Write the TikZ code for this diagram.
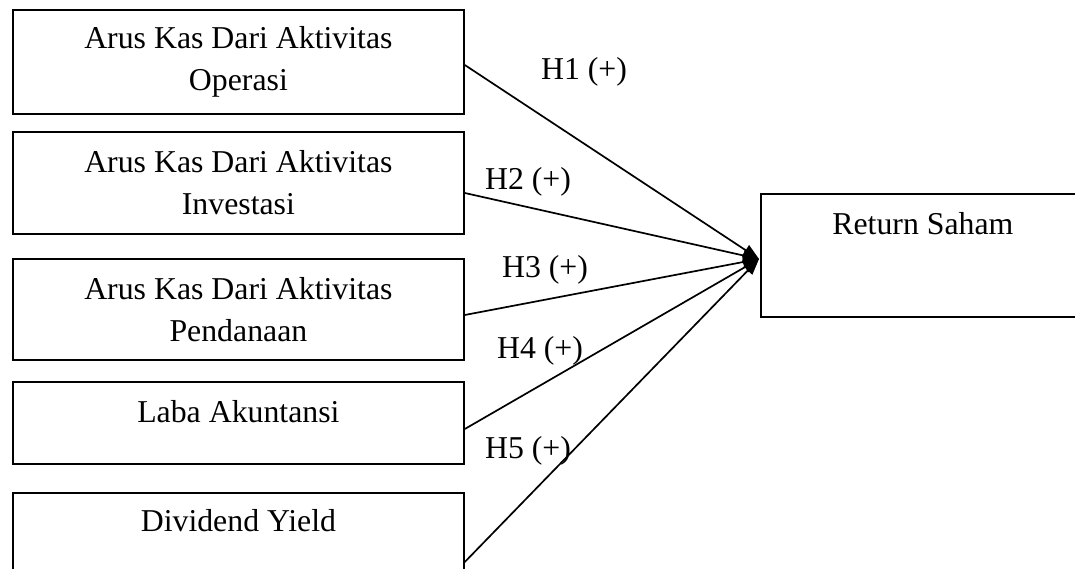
\documentclass[tikz,border=0pt]{standalone}
\usepackage{fontspec}
\setmainfont{Liberation Serif}
\usetikzlibrary{arrows.meta,calc}
\begin{document}
\begin{tikzpicture}[x=1pt,y=-1pt,
  box/.style={draw,line width=1.8pt,rectangle,inner sep=0pt,anchor=north west},
  txt/.style={font=\fontsize{31.8}{42}\selectfont,align=center,inner sep=0pt},
  hyp/.style={font=\fontsize{31.8}{42}\selectfont,inner sep=0pt},
  link/.style={line width=1.7pt,-{Triangle[length=16pt,width=12pt]}}]
\clip (0,0) rectangle (1075,569);
\fill[white] (0,0) rectangle (1075,569);
% boxes
\node[box,minimum width=451pt,minimum height=104pt] (b1) at (12,9) {};
\node[box,minimum width=451pt,minimum height=102pt] (b2) at (12,131) {};
\node[box,minimum width=451pt,minimum height=101pt] (b3) at (12,258) {};
\node[box,minimum width=451pt,minimum height=82pt] (b4) at (12,381) {};
\node[box,minimum width=451pt,minimum height=130pt] (b5) at (12,492) {};
\node[box,minimum width=324pt,minimum height=123pt] (ret) at (760,193) {};
% texts
\node[txt] (t1) at (b1.center) {Arus Kas Dari Aktivitas\\Operasi};
\node[txt] (t2) at (b2.center) {Arus Kas Dari Aktivitas\\Investasi};
\node[txt] (t3) at (b3.center) {Arus Kas Dari Aktivitas\\Pendanaan};
\node[txt,anchor=base] (t4) at ($(b4.north)+(0,41)$) {Laba Akuntansi};
\node[txt,anchor=base] (t5) at ($(b5.north)+(0,39)$) {Dividend Yield};
\node[txt,anchor=base] (t6) at ($(ret.north)+(0,41)$) {Return Saham};
% connectors
\coordinate (tip) at (759,259);
\coordinate (s1) at ($(b1.north east)+(0,56)$);
\coordinate (s2) at ($(b2.north east)+(0,62)$);
\coordinate (s3) at ($(b3.north east)+(0,57)$);
\coordinate (s4) at ($(b4.north east)+(0,48)$);
\coordinate (s5) at ($(b5.north east)+(0,70)$);
\draw[link] (s1) -- (tip);
\draw[link] (s2) -- (tip);
\draw[link] (s3) -- (tip);
\draw[link] (s4) -- (tip);
\draw[link] (s5) -- (tip);
% labels
\node[hyp,anchor=base] (h1) at (584,80) {H1 (+)};
\node[hyp,anchor=base] (h2) at (528,190) {H2 (+)};
\node[hyp,anchor=base] (h3) at (545,277) {H3 (+)};
\node[hyp,anchor=base] (h4) at (540,358) {H4 (+)};
\node[hyp,anchor=base] (h5) at (528,458) {H5 (+)};
\end{tikzpicture}
\end{document}
